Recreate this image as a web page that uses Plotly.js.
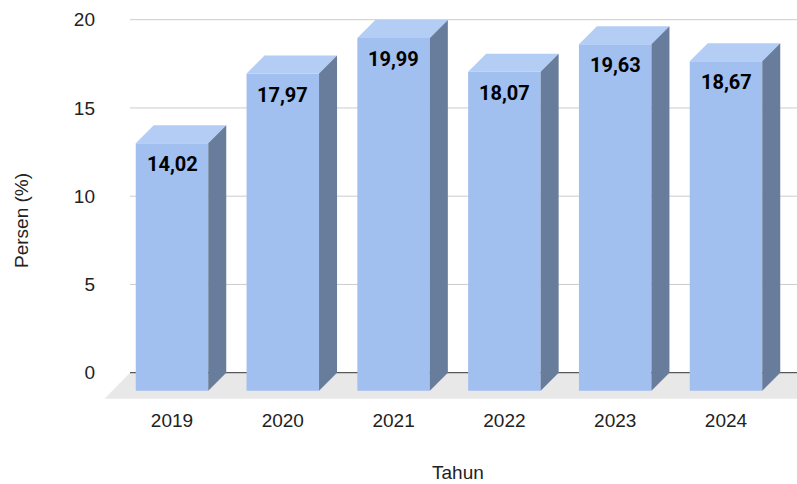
<!DOCTYPE html>
<html>
<head>
<meta charset="utf-8">
<script src="https://cdn.plot.ly/plotly-3.0.1.min.js"></script>
<style>html,body{margin:0;padding:0;background:#fff;}#chart{width:797px;height:484px;}</style>
</head>
<body>
<div id="chart"></div>
<script>
// ---- data ----
const years = ['2019', '2020', '2021', '2022', '2023', '2024'];
const values = [14.02, 17.97, 19.99, 18.07, 19.63, 18.67];
const yTickVals = [0, 5, 10, 15, 20];
const xTitle = 'Tahun';
const yTitle = 'Persen (%)';

// ---- geometry (pixels -> data units) ----
const W = 797, H = 484;
const M = {l: 100, r: 0, t: 10, b: 84};
const pxPerX = 110.8, pxPerY = 17.65;
const zeroPx = 372.7, firstCenterPx = 172;
const plotW = W - M.l - M.r, plotH = H - M.t - M.b;
const xMin = (M.l - firstCenterPx) / pxPerX;
const xMax = xMin + plotW / pxPerX;
const yMax = (zeroPx - M.t) / pxPerY;
const yMin = yMax - plotH / pxPerY;

const dX = 18 / pxPerX, dY = 18 / pxPerY;           // bar depth
const fdX = 25.5 / pxPerX, fdY = 26 / pxPerY;        // floor depth
const half = 72.5 / pxPerX / 2;                      // half front width
const backLeft = (130 - firstCenterPx) / pxPerX;

const idx = years.map((_, i) => i);

// top faces & side faces
const topX = [], topY = [], sideX = [], sideY = [];
idx.forEach(i => {
  const v = values[i];
  const fl = i - half, fr = i + half;
  topX.push(fl, fr, fr + dX, fl + dX, fl, null);
  topY.push(v - dY, v - dY, v, v, v - dY, null);
  sideX.push(fr, fr + dX, fr + dX, fr, fr, null);
  sideY.push(-dY, 0, v, v - dY, -dY, null);
});

const front = {
  type: 'bar', x: idx, y: values, base: -dY, width: 2 * half,
  marker: {color: '#a1bfef', line: {width: 0}}, hoverinfo: 'skip', showlegend: false
};
const tops = {
  type: 'scatter', mode: 'lines', x: topX, y: topY, fill: 'toself',
  fillcolor: '#b4cdf5', line: {width: 0, color: 'rgba(0,0,0,0)'}, hoverinfo: 'skip', showlegend: false
};
const sides = {
  type: 'scatter', mode: 'lines', x: sideX, y: sideY, fill: 'toself',
  fillcolor: '#687d9c', line: {width: 0, color: 'rgba(0,0,0,0)'}, hoverinfo: 'skip', showlegend: false
};

const shapes = [];
// floor
shapes.push({
  type: 'path', xref: 'x', yref: 'y', layer: 'below',
  path: `M ${backLeft} 0 L ${xMax + 1} 0 L ${xMax + 1 - fdX} ${-fdY} L ${backLeft - fdX} ${-fdY} Z`,
  fillcolor: '#e8e8e8', line: {width: 0}
});
// gridlines
yTickVals.forEach(v => {
  shapes.push({
    type: 'line', xref: 'x', yref: 'y', layer: 'below',
    x0: backLeft, x1: xMax + 1, y0: v, y1: v,
    line: {color: v === 0 ? '#333333' : '#cccccc', width: 1}
  });
});

const annotations = idx.map(i => ({
  x: i, y: values[i] - dY, xref: 'x', yref: 'y',
  text: values[i].toFixed(2).replace('.', ','),
  showarrow: false, xanchor: 'center', yanchor: 'middle', yshift: -21,
  font: {family: 'Roboto', size: 20, color: '#000000', weight: 'bold'}
}));
annotations.push({
  x: (457.5 - M.l) / plotW, y: 1 - (472 - M.t) / plotH, xref: 'paper', yref: 'paper', text: xTitle,
  showarrow: false, xanchor: 'center', yanchor: 'middle',
  font: {family: 'Liberation Sans, Arial', size: 19, color: '#222222'}
});
annotations.push({
  x: (21 - M.l) / plotW, y: 1 - (221 - M.t) / plotH, xref: 'paper', yref: 'paper', text: yTitle,
  showarrow: false, xanchor: 'center', yanchor: 'middle', textangle: -90,
  font: {family: 'Liberation Sans, Arial', size: 19, color: '#222222'}
});

const layout = {
  width: W, height: H,
  margin: M,
  paper_bgcolor: '#ffffff', plot_bgcolor: '#ffffff',
  showlegend: false,
  xaxis: {
    range: [xMin, xMax], tickvals: idx, ticktext: years, showgrid: false, zeroline: false,
    showline: false, ticks: '', ticklabelstandoff: 7,
    tickfont: {family: 'Liberation Sans, Arial', size: 19, color: '#222222'}
  },
  yaxis: {
    range: [yMin, yMax], tickvals: yTickVals, showgrid: false, zeroline: false,
    showline: false, ticks: '', ticklabelstandoff: 4,
    tickfont: {family: 'Liberation Sans, Arial', size: 19, color: '#222222'}
  },
  shapes: shapes,
  annotations: annotations
};

Plotly.newPlot('chart', [front, tops, sides], layout, {displayModeBar: false, staticPlot: true});
</script>
</body>
</html>
